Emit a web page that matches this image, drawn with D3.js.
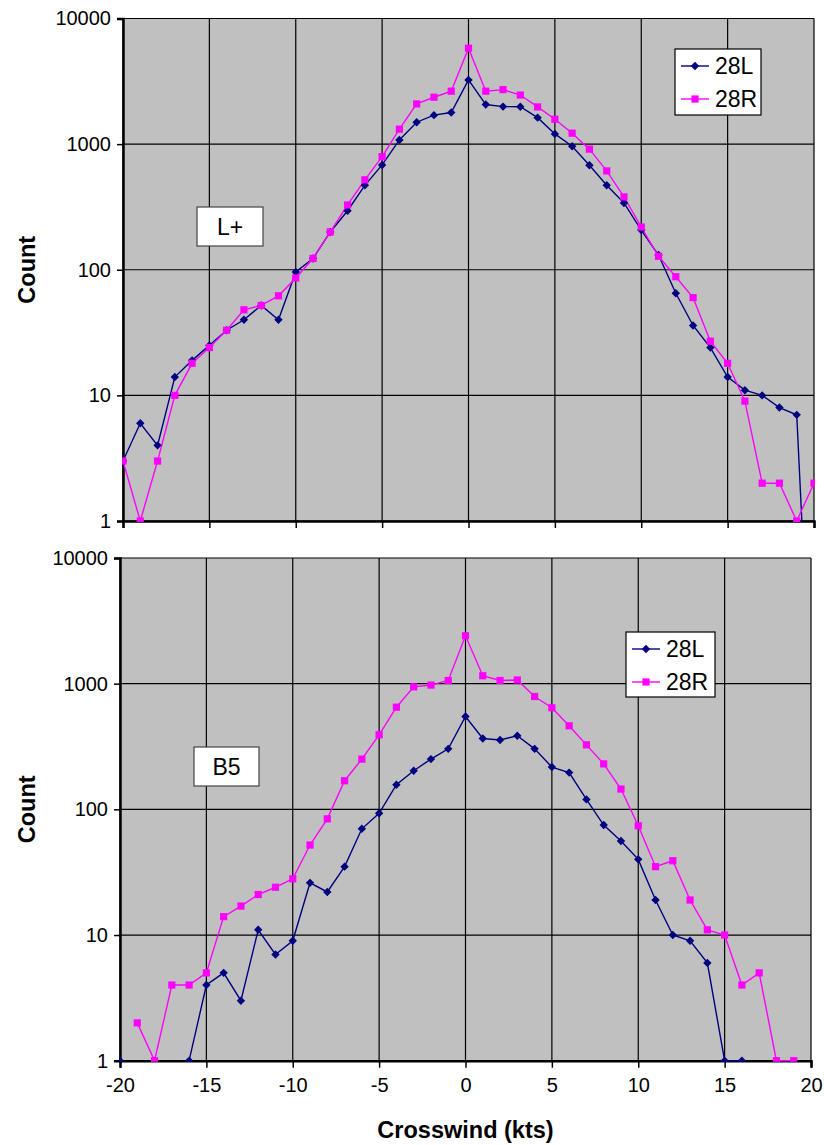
<!DOCTYPE html>
<html>
<head>
<meta charset="utf-8">
<script src="https://cdn.jsdelivr.net/npm/d3@7"></script>
<style>
  html, body { margin: 0; padding: 0; background: #ffffff; }
  svg { display: block; }
  text { font-family: "Liberation Sans", Arial, sans-serif; }
</style>
</head>
<body>
<svg id="chart" width="824" height="1145"></svg>
<script>
// ---------- DATA ----------
const crosswind = d3.range(-20, 21); // -20 .. 20 kts
const xTicks = [-20, -15, -10, -5, 0, 5, 10, 15, 20];
const yTicks = [1, 10, 100, 1000, 10000];
const seriesNames = ["28L", "28R"];
const panelLabels = ["L+", "B5"];

// Panel "L+" (top)
const lplus28L = [3, 6, 4, 14, 19, 25, 33, 40, 52, 40,
                  96, 123, 200, 295, 470, 683, 1080, 1494, 1700, 1785,
                  3245,
                  2065, 1990, 1985, 1625, 1206, 962, 679, 470, 340, 207,
                  131, 65, 36, 24, 14, 11, 10, 8, 7, 0.01];
const lplus28R = [3, 1, 3, 10, 18, 24, 33, 48, 52, 62,
                  86, 123, 200, 328, 520, 795, 1315, 2090, 2362, 2640,
                  5800,
                  2640, 2715, 2460, 1978, 1578, 1222, 912, 612, 380, 219,
                  128, 88, 60, 27, 18, 9, 2, 2, 1, 2];

// Panel "B5" (bottom)  (null = no point)
const b5_28L = [1, null, null, null, 1, 4, 5, 3, 11, 7,
                9, 26, 22, 35, 70, 93, 157, 203, 251, 303,
                548,
                366, 356, 385, 303, 217, 196, 120, 75, 56, 40,
                19, 10, 9, 6, 1, 1, null, null, null, null];
const b5_28R = [null, 2, 1, 4, 4, 5, 14, 17, 21, 24,
                28, 52, 84, 169, 251, 392, 650, 944, 975, 1060,
                2406,
                1156, 1060, 1070, 791, 643, 462, 326, 230, 145, 74,
                35, 39, 19, 11, 10, 4, 5, 1, 1, null];

// ---------- STYLE ----------
const NAVY = "#000080", PINK = "#FF00FF", BG = "#C0C0C0";

const svg = d3.select("#chart");

const panels = [
  { left: 123, right: 814, top: 18.5, bottom: 521, s28L: lplus28L, s28R: lplus28R,
    label: panelLabels[0], labelBox: [197, 207, 66, 39],
    legend: [675, 49, 86, 66], showXLabels: false },
  { left: 120, right: 811, top: 558, bottom: 1060.7, s28L: b5_28L, s28R: b5_28R,
    label: panelLabels[1], labelBox: [194, 747, 65, 39],
    legend: [626, 632, 89, 65], showXLabels: true }
];

function diamondPath(r) { return `M0,${-r}L${r},0L0,${r}L${-r},0Z`; }
const plainNum = d => String(d);

panels.forEach((p, pi) => {
  const x = d3.scaleLinear().domain([-20, 20]).range([p.left, p.right]);
  const y = d3.scaleLog().domain([1, 10000]).range([p.bottom, p.top]);
  const g = svg.append("g");

  const clipId = "clip" + pi;
  svg.append("defs").append("clipPath").attr("id", clipId)
    .append("rect").attr("x", p.left - 1).attr("y", p.top - 1)
    .attr("width", p.right - p.left + 2).attr("height", p.bottom - p.top + 2);

  // background
  g.append("rect").attr("x", p.left).attr("y", p.top)
    .attr("width", p.right - p.left).attr("height", p.bottom - p.top)
    .attr("fill", BG);

  // gridlines
  g.selectAll(".hg").data(yTicks).join("line")
    .attr("x1", p.left).attr("x2", p.right)
    .attr("y1", d => y(d)).attr("y2", d => y(d))
    .attr("stroke", "#000").attr("stroke-width", 1.2);
  g.selectAll(".vg").data(xTicks).join("line")
    .attr("x1", d => x(d)).attr("x2", d => x(d))
    .attr("y1", p.top).attr("y2", p.bottom)
    .attr("stroke", "#000").attr("stroke-width", 1.2);

  // y axis
  const ya = g.append("g").attr("transform", `translate(${p.left},0)`)
    .call(d3.axisLeft(y).tickValues(yTicks).tickFormat(plainNum).tickSize(6).tickPadding(6));
  ya.select(".domain").attr("stroke-width", 2.5);
  ya.selectAll(".tick line").attr("stroke-width", 1.5);
  ya.selectAll("text").attr("font-size", 20).attr("fill", "#000")
    .style("font-family", "'Liberation Sans', Arial, sans-serif");

  // x axis
  const xa = g.append("g").attr("transform", `translate(0,${p.bottom})`)
    .call(d3.axisBottom(x).tickValues(xTicks).tickSize(7).tickPadding(10)
      .tickFormat(p.showXLabels ? plainNum : () => ""));
  xa.select(".domain").attr("stroke-width", 2.5);
  xa.selectAll(".tick line").attr("stroke-width", 1.5);
  xa.selectAll("text").attr("font-size", 20).attr("fill", "#000")
    .style("font-family", "'Liberation Sans', Arial, sans-serif");

  // y title
  g.append("text")
    .attr("transform", `translate(35,${(p.top + p.bottom) / 2}) rotate(-90)`)
    .attr("text-anchor", "middle").attr("font-size", 23.5).attr("font-weight", "bold")
    .text("Count");

  // series
  const series = [
    { name: seriesNames[0], vals: p.s28L, color: NAVY, marker: "diamond" },
    { name: seriesNames[1], vals: p.s28R, color: PINK, marker: "square" }
  ];
  const plotG = g.append("g").attr("clip-path", `url(#${clipId})`);
  series.forEach(s => {
    const pts = crosswind.map((c, i) => ({ c, v: s.vals[i] }));
    const line = d3.line().defined(d => d.v != null)
      .x(d => x(d.c)).y(d => y(d.v));
    plotG.append("path").datum(pts).attr("d", line)
      .attr("fill", "none").attr("stroke", s.color).attr("stroke-width", 1.4);
  });
  series.forEach(s => {
    const pts = crosswind.map((c, i) => ({ c, v: s.vals[i] }))
      .filter(d => d.v != null && d.v >= 1);
    if (s.marker === "diamond") {
      plotG.selectAll(null).data(pts).join("path")
        .attr("d", diamondPath(4.2))
        .attr("transform", d => `translate(${x(d.c)},${y(d.v)})`)
        .attr("fill", s.color);
    } else {
      plotG.selectAll(null).data(pts).join("rect")
        .attr("x", d => x(d.c) - 3.6).attr("y", d => y(d.v) - 3.6)
        .attr("width", 7.2).attr("height", 7.2)
        .attr("fill", s.color);
    }
  });

  // legend
  const [lx, ly, lw, lh] = p.legend;
  const lg = g.append("g");
  lg.append("rect").attr("x", lx).attr("y", ly).attr("width", lw).attr("height", lh)
    .attr("fill", "#fff").attr("stroke", "#000").attr("stroke-width", 1.2);
  series.forEach((s, i) => {
    const cy = ly + 17 + i * 33;
    lg.append("line").attr("x1", lx + 6).attr("x2", lx + 34)
      .attr("y1", cy).attr("y2", cy).attr("stroke", s.color).attr("stroke-width", 1.4);
    if (s.marker === "diamond") {
      lg.append("path").attr("d", diamondPath(4.2))
        .attr("transform", `translate(${lx + 20},${cy})`).attr("fill", s.color);
    } else {
      lg.append("rect").attr("x", lx + 20 - 3.6).attr("y", cy - 3.6)
        .attr("width", 7.2).attr("height", 7.2).attr("fill", s.color);
    }
    lg.append("text").attr("x", lx + 40).attr("y", cy).attr("dy", "0.36em")
      .attr("font-size", 23).text(s.name);
  });

  // panel label box
  const [bx, by, bw, bh] = p.labelBox;
  g.append("rect").attr("x", bx).attr("y", by).attr("width", bw).attr("height", bh)
    .attr("fill", "#fff").attr("stroke", "#444").attr("stroke-width", 1.2);
  g.append("text").attr("x", bx + bw / 2).attr("y", by + bh / 2).attr("dy", "0.36em")
    .attr("text-anchor", "middle").attr("font-size", 23).text(p.label);

  if (p.showXLabels) {
    g.append("text").attr("x", (p.left + p.right) / 2).attr("y", 1138)
      .attr("text-anchor", "middle").attr("font-size", 23.5).attr("font-weight", "bold")
      .text("Crosswind (kts)");
  }
});
</script>
</body>
</html>
